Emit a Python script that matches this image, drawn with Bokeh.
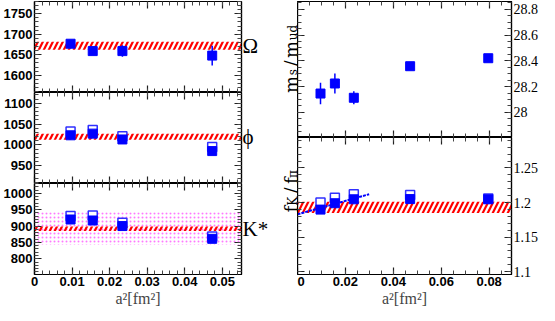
import numpy as np
from bokeh.plotting import figure
from bokeh.layouts import row, column
from bokeh.models import (Range1d, LinearAxis, SingleIntervalTicker, FixedTicker, Grid,
                          BoxAnnotation, PrintfTickFormatter, CustomJSTickFormatter, Label)
from bokeh.embed import file_html
from bokeh.resources import INLINE

# ---------------- data ----------------
a2_left = [0.0096, 0.0155, 0.0234, 0.0473]
a2_right = [0.0096, 0.0156, 0.0235, 0.0470, 0.0796]

omega = [1677, 1659, 1659, 1648]
omega_err = [5, 6, 14, 24]
omega_phys, omega_band = 1672, 10

phi_full = [1023, 1027, 1013, 985]
phi_open = [1032, 1036, 1021, 995]
phi_err = [4, 4, 4, 4]
phi_phys, phi_band = 1019.5, 7

kstar_full = [920, 917, 900, 861]
kstar_open = [931, 932, 910, 868]
kstar_err = [5, 5, 5, 5]
kstar_phys, kstar_band, kstar_width = 892, 7, 50

ms_mud = [28.146, 28.224, 28.113, 28.358, 28.42]
ms_err = [0.083, 0.077, 0.05, 0.02, 0.03]

fk_full = [1.1898, 1.199, 1.2047, 1.205, 1.2047]
fk_open = [1.200, 1.207, 1.212, 1.211, 1.206]
fk_phys, fk_band = 1.193, 0.008
fit_x = [0.0, 0.0299]
fit_y = [1.183, 1.212]

panel_names = ["Ω", "ϕ", "K*"]
x_title = "a²[fm²]"

LEFT_X = (0.0, 0.0551)
RIGHT_X = (0.0, 0.0893)
Y_OMEGA = (1558, 1780)
Y_PHI = (907, 1126)
Y_KSTAR = (752, 1030)
Y_MS = (27.805, 28.86)
Y_FK = (1.096, 1.294)

BLUE = "#0000ff"
RED = "#ff0000"
SANS = "Liberation Sans"
SERIF = "Liberation Serif"
TSERIF = "DejaVu Serif"


def make_fig(w, h, xr, yr, bl, br, bt, bb, outline=True):
    p = figure(width=w, height=h, x_range=Range1d(*xr), y_range=Range1d(*yr),
               x_axis_location=None, y_axis_location=None,
               toolbar_location=None, output_backend="svg",
               min_border_left=bl, min_border_right=br,
               min_border_top=bt, min_border_bottom=bb)
    p.outline_line_color = "black" if outline else None
    p.outline_line_width = 1.2
    p.background_fill_color = "white"
    p.border_fill_color = "white"
    for r in list(p.center):
        if isinstance(r, Grid):
            r.visible = False
            r.grid_line_color = None
    return p


def add_axis(p, side, interval, nminor, labels=False, font=SANS, size="13px",
             bold=False, title=None):
    ax = LinearAxis(ticker=SingleIntervalTicker(interval=interval, num_minor_ticks=nminor),
                    formatter=PrintfTickFormatter(format="%.4g"))
    ax.major_tick_in = 7
    ax.major_tick_out = 0
    ax.minor_tick_in = 4
    ax.minor_tick_out = 0
    ax.axis_line_width = 1.2
    ax.major_tick_line_width = 1.2
    ax.minor_tick_line_width = 1
    ax.major_tick_line_color = "#222222"
    ax.minor_tick_line_color = "#444444"
    if labels:
        ax.major_label_text_font = font
        ax.major_label_text_font_size = size
        ax.major_label_text_font_style = "bold" if bold else "normal"
        ax.major_label_standoff = 2
        ax.major_label_text_color = "black"
    else:
        ax.major_label_text_font_size = "0px"
        ax.major_label_text_color = None
        ax.major_label_standoff = 0
    if title:
        ax.axis_label = title
        ax.axis_label_text_font = SERIF
        ax.axis_label_text_font_size = "16px"
        ax.axis_label_text_font_style = "normal"
        ax.axis_label_standoff = 1
    p.add_layout(ax, side)
    return ax


def name_axis(p, yv, txt):
    ax = LinearAxis(ticker=FixedTicker(ticks=[yv], minor_ticks=[]),
                    formatter=CustomJSTickFormatter(args=dict(t=txt), code="return t"))
    ax.major_tick_in = 0
    ax.major_tick_out = 0
    ax.minor_tick_in = 0
    ax.minor_tick_out = 0
    ax.axis_line_color = None
    ax.major_tick_line_color = None
    ax.major_label_text_font = SERIF
    ax.major_label_text_font_size = "21px"
    ax.major_label_text_color = "black"
    ax.major_label_standoff = 1
    p.add_layout(ax, "right")


def hatch_band(p, center, half):
    p.add_layout(BoxAnnotation(bottom=center - half, top=center + half,
                               fill_alpha=0, line_alpha=0, level="underlay",
                               hatch_pattern="/", hatch_color=RED,
                               hatch_weight=2.2, hatch_scale=10))


def points(p, xs, ys, errs=None, open_ys=None):
    if open_ys is not None:
        p.scatter(xs, open_ys, marker="square", size=9, fill_color="white",
                  line_color="#3030ff", line_width=1.5)
    if errs is not None:
        lo = [y - e for y, e in zip(ys, errs)]
        hi = [y + e for y, e in zip(ys, errs)]
        p.segment(x0=xs, y0=lo, x1=xs, y1=hi, line_color=BLUE, line_width=1.5)
    p.scatter(xs, ys, marker="square", size=9, fill_color=BLUE, line_color=BLUE)


# ---------------- left column ----------------
LW, LBL, LBR = 271, 31, 28
FH = 91

p_om = make_fig(LW, FH + 1, LEFT_X, Y_OMEGA, LBL, LBR, 1, 0)
p_ph = make_fig(LW, FH, LEFT_X, Y_PHI, LBL, LBR, 0, 0)
p_ks = make_fig(LW, FH + 37, LEFT_X, Y_KSTAR, LBL, LBR, 0, 37)

for p in (p_om, p_ph, p_ks):
    add_axis(p, "left", 50, 5, labels=True, bold=True)
    add_axis(p, "right", 50, 5)
    add_axis(p, "above", 0.01, 5)
add_axis(p_om, "below", 0.01, 5)
add_axis(p_ph, "below", 0.01, 5)
add_axis(p_ks, "below", 0.01, 5, labels=True, bold=True, title=x_title)

hatch_band(p_om, omega_phys, omega_band)
points(p_om, a2_left, omega, errs=omega_err)

hatch_band(p_ph, phi_phys, phi_band)
points(p_ph, a2_left, phi_full, errs=phi_err, open_ys=phi_open)

p_ks.add_layout(BoxAnnotation(bottom=kstar_phys - kstar_width, top=kstar_phys + kstar_width,
                              fill_alpha=0, line_alpha=0, level="underlay",
                              hatch_pattern=".", hatch_color="#ff77ff",
                              hatch_weight=0.8, hatch_scale=4))
hatch_band(p_ks, kstar_phys, kstar_band)
points(p_ks, a2_left, kstar_full, errs=kstar_err, open_ys=kstar_open)

for p, yv, txt in zip((p_om, p_ph, p_ks), (omega_phys, phi_phys, kstar_phys), panel_names):
    name_axis(p, yv, txt)

# ---------------- title strip (rotated y titles of right panels) ----------------
# each piece is anchored at its upper end (right-aligned along the rotated text)
SW, SH = 26, 311
strip = make_fig(SW, SH, (0, SW), (0, SH), 0, 0, 0, 0, outline=False)
title_pieces = [
    # text, x, y(end), size
    ("m", 20, 235.5, "18px"), ("s", 21.5, 242.4, "12px"), ("/", 20, 251.1, "18px"),
    ("m", 20, 270.5, "18px"), ("ud", 21.5, 286.6, "12px"),
    ("f", 20, 105.7, "18px"), ("K", 21.5, 114.8, "12px"), ("/", 20, 124.1, "18px"),
    ("f", 20, 134.2, "18px"), ("π", 21.5, 141.4, "12px"),
]
for txt, xx, yy, sz in title_pieces:
    strip.add_layout(Label(x=xx, y=yy, text=txt, angle=np.pi / 2,
                           text_font=TSERIF, text_font_size=sz,
                           text_align="right", text_baseline="alphabetic",
                           text_color="black"))

# ---------------- right column ----------------
RW, RBL, RBR = 246, 0, 32
p_ms = make_fig(RW, 137, RIGHT_X, Y_MS, RBL, RBR, 1, 0)
p_fk = make_fig(RW, 137 + 37, RIGHT_X, Y_FK, RBL, RBR, 0, 37)

add_axis(p_ms, "right", 0.2, 4, labels=True, font=SERIF, size="14px")
add_axis(p_ms, "left", 0.2, 4)
add_axis(p_ms, "above", 0.02, 4)
add_axis(p_ms, "below", 0.02, 4)

add_axis(p_fk, "right", 0.05, 5, labels=True, font=SERIF, size="14px")
add_axis(p_fk, "left", 0.05, 5)
add_axis(p_fk, "above", 0.02, 4)
add_axis(p_fk, "below", 0.02, 4, labels=True, bold=True, title=x_title)

points(p_ms, a2_right, ms_mud, errs=ms_err)

hatch_band(p_fk, fk_phys, fk_band)
p_fk.line(fit_x, fit_y, line_color=BLUE, line_width=2, line_dash="3 1")
points(p_fk, a2_right, fk_full, open_ys=fk_open)

layout = row(column(p_om, p_ph, p_ks), strip, column(p_ms, p_fk))
open("out.html", "w").write(file_html(layout, INLINE))
